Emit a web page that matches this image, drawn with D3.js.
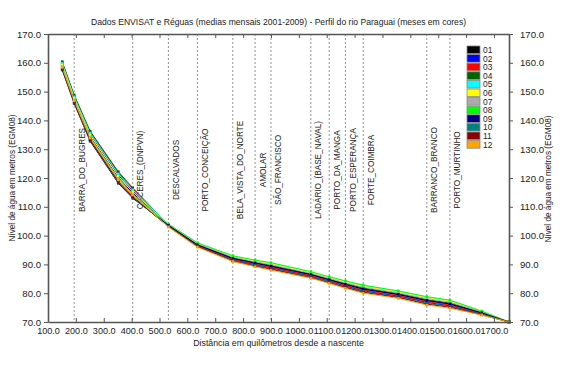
<!DOCTYPE html>
<html><head><meta charset="utf-8">
<script src="https://cdn.jsdelivr.net/npm/d3@7"></script>
<style>body{margin:0;background:#fff}svg{display:block;font-family:"Liberation Sans",Arial,sans-serif}</style>
</head><body><div id="chart"></div>
<script>
const distances = [151,194,251,352,404,532,636,763,843,900,1043,1109,1167,1231,1357,1459,1542,1656,1754];
const months = ["01","02","03","04","05","06","07","08","09","10","11","12"];
const colors = ["#000000","#0000ff","#ff0000","#006400","#00ffff","#ffff00","#aaaaaa","#00ff00","#000080","#008080","#8b0000","#ffa500"];
const m01 = [159.0,147.4,134.5,120.2,114.8,103.5,96.8,92.0,90.4,89.3,86.4,84.6,83.0,81.4,79.5,77.4,76.2,73.1,70.0];
const m02 = [159.5,147.9,135.2,121.0,115.5,103.3,96.5,91.6,89.9,88.8,85.9,84.1,82.5,80.8,79.0,76.8,75.6,72.8,70.0];
const m03 = [160.1,148.5,135.9,121.8,116.2,103.4,96.6,91.8,90.1,89.0,86.1,84.3,82.7,81.1,79.2,77.1,75.9,73.0,70.0];
const m04 = [160.4,148.8,136.3,122.2,116.6,103.7,97.0,92.3,90.7,89.7,86.7,84.9,83.4,81.8,79.9,77.8,76.6,73.3,70.0];
const m05 = [159.8,148.2,135.6,121.4,115.9,103.9,97.4,92.8,91.3,90.4,87.3,85.5,84.1,82.6,80.6,78.6,77.4,73.7,70.0];
const m06 = [159.2,147.6,134.9,120.6,115.2,103.9,97.3,92.7,91.2,90.2,87.2,85.4,83.9,82.4,80.4,78.4,77.2,73.6,70.0];
const m07 = [158.7,147.1,134.2,119.8,114.4,103.8,97.1,92.5,90.9,89.9,86.9,85.1,83.6,82.1,80.1,78.1,76.9,73.5,70.0];
const m08 = [158.2,146.6,133.7,119.2,113.9,104.0,97.5,93.0,91.5,90.6,87.5,85.7,84.3,82.8,80.8,78.8,77.6,73.8,70.0];
const m09 = [157.5,145.9,132.8,118.2,113.0,103.6,96.8,92.1,90.5,89.4,86.5,84.7,83.1,81.5,79.6,77.5,76.3,73.2,70.0];
const m10 = [157.7,146.1,133.1,118.5,113.3,103.2,96.3,91.4,89.7,88.5,85.7,83.9,82.2,80.6,78.7,76.5,75.4,72.7,70.0];
const m11 = [157.9,146.3,133.3,118.8,113.5,103.1,96.2,91.2,89.4,88.3,85.4,83.6,82.0,80.3,78.5,76.2,75.1,72.5,70.0];
const m12 = [158.4,146.8,133.9,119.4,114.1,103.0,96.0,91.0,89.2,88.0,85.2,83.4,81.7,80.0,78.2,75.9,74.8,72.4,70.0];
const seriesValues = [m01,m02,m03,m04,m05,m06,m07,m08,m09,m10,m11,m12];
const stationNames = ["BARRA_DO_BUGRES","CÁCERES_(DNPVN)","DESCALVADOS","PORTO_CONCEIÇÃO","BELA_VISTA_DO_NORTE","AMOLAR","SÃO_FRANCISCO","LADÁRIO_(BASE_NAVAL)","PORTO_DA_MANGA","PORTO_ESPERANÇA","FORTE_COIMBRA","BARRANCO_BRANCO","PORTO_MURTINHO"];
const stationKm = [194,404,532,636,763,843,900,1043,1109,1167,1231,1459,1542];
const xTicks = [100,200,300,400,500,600,700,800,900,1000,1100,1200,1300,1400,1500,1600,1700];
const yTicks = [70,80,90,100,110,120,130,140,150,160,170];
const title = "Dados ENVISAT e Réguas (medias mensais 2001-2009) - Perfil do rio Paraguai (meses em cores)";
const xTitle = "Distância em quilômetros desde a nascente";
const yTitle = "Nível de água em metros (EGM08)";

const W = 568, H = 366;
const m = {left:48, right:59, top:34, bottom:44};
const pw = W - m.left - m.right, ph = H - m.top - m.bottom;
const svg = d3.select("#chart").append("svg").attr("width",W).attr("height",H);
const x = d3.scaleLinear().domain([100,1754]).range([m.left, m.left+pw]);
const y = d3.scaleLinear().domain([70,170]).range([m.top+ph, m.top]);
const fmt = d3.format(".1f");

svg.append("text").attr("x", m.left+pw/2).attr("y", 25).attr("text-anchor","middle")
  .attr("font-size", 8.6).attr("fill","#222").text(title);

const st = svg.append("g");
stationKm.forEach((k,i)=>{
  st.append("line").attr("x1",x(k)).attr("x2",x(k)).attr("y1",m.top).attr("y2",m.top+ph)
    .attr("stroke","#666").attr("stroke-width",0.7).attr("stroke-dasharray","2,2");
  st.append("text").attr("transform",`translate(${x(k)+10.5},170) rotate(-90)`)
    .attr("text-anchor","middle").attr("font-size",8.2).attr("fill","#222").text(stationNames[i]);
});

const line = d3.line().x((d,i)=>x(distances[i])).y(d=>y(d));
seriesValues.forEach((vals,s)=>{
  svg.append("path").datum(vals).attr("d",line).attr("fill","none")
    .attr("stroke",colors[s]).attr("stroke-width",1.0);
});
seriesValues.forEach((vals,s)=>{
  svg.append("g").selectAll("rect").data(vals).join("rect")
    .attr("x",(d,i)=>x(distances[i])-1.3).attr("y",d=>y(d)-1.3).attr("width",2.6).attr("height",2.6)
    .attr("fill",colors[s]);
});

const axCol = "#555";
const gB = svg.append("g").attr("transform",`translate(0,${m.top+ph})`)
  .call(d3.axisBottom(x).tickValues(xTicks).tickFormat(fmt).tickSizeInner(-4).tickSizeOuter(0).tickPadding(6));
const gT = svg.append("g").attr("transform",`translate(0,${m.top})`)
  .call(d3.axisTop(x).tickValues(xTicks).tickFormat("").tickSizeInner(-4).tickSizeOuter(0));
const gL = svg.append("g").attr("transform",`translate(${m.left},0)`)
  .call(d3.axisLeft(y).tickValues(yTicks).tickFormat(fmt).tickSizeInner(4).tickSizeOuter(0).tickPadding(3));
const gR = svg.append("g").attr("transform",`translate(${m.left+pw},0)`)
  .call(d3.axisRight(y).tickValues(yTicks).tickFormat(fmt).tickSizeInner(4).tickSizeOuter(0).tickPadding(7));
[gB,gT,gL,gR].forEach(g=>{
  g.select(".domain").attr("stroke",axCol).attr("stroke-width",1.6);
  g.selectAll(".tick line").attr("stroke",axCol);
  g.selectAll("text").attr("font-family","Liberation Sans, Arial, sans-serif").attr("fill","#222");
});
gB.selectAll("text").attr("font-size",9.1);
gL.selectAll("text").attr("font-size",9.6);
gR.selectAll("text").attr("font-size",9.6);

svg.append("text").attr("x", m.left+pw/2).attr("y", 346).attr("text-anchor","middle")
  .attr("font-size",8.8).attr("fill","#222").text(xTitle);
svg.append("text").attr("transform",`translate(15,178) rotate(-90)`).attr("text-anchor","middle")
  .attr("font-size",8.2).attr("fill","#222").text(yTitle);
svg.append("text").attr("transform",`translate(551,179) rotate(-90)`).attr("text-anchor","middle")
  .attr("font-size",8.2).attr("fill","#222").text(yTitle);

const lg = svg.append("g").attr("transform","translate(467,46)");
months.forEach((mo,i)=>{
  lg.append("rect").attr("x",0).attr("y",i*8.6).attr("width",13).attr("height",7.6)
    .attr("fill",colors[i]).attr("stroke","#888").attr("stroke-width",0.8);
  lg.append("text").attr("x",16).attr("y",i*8.6+7).attr("font-size",8.4).attr("fill","#222").text(mo);
});
</script></body></html>
